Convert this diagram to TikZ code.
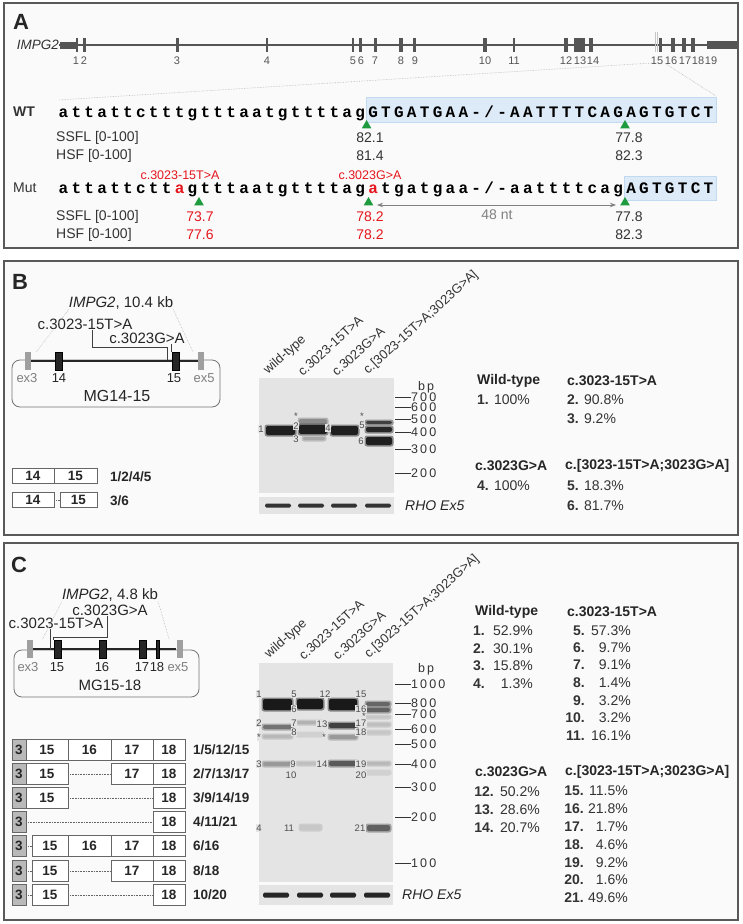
\documentclass[tikz,border=0pt]{standalone}
\usepackage{fontspec}
\setmainfont{Liberation Sans}
\newfontfamily\seqfont{Liberation Mono}
\usepackage{xcolor}
\usetikzlibrary{arrows.meta,shapes.geometric}

\definecolor{exgray}{HTML}{555555}
\definecolor{txtgray}{HTML}{333333}
\definecolor{seqblue}{HTML}{DDEBF8}
\definecolor{seqedge}{HTML}{C2DAF0}
\definecolor{trigreen}{HTML}{1F9B3F}
\definecolor{mutred}{HTML}{E5161D}
\definecolor{panelbg}{HTML}{FAFAFA}
\definecolor{gelbg}{HTML}{E4E4E4}
\newcommand{\fsz}[1]{\fontsize{#1}{#1}\selectfont}

\begin{document}
\begin{tikzpicture}[x=1pt, y=-1pt,
  panel/.style={draw=black!65, line width=1.1pt, fill=panelbg},
  plet/.style={font=\fsz{22}\bfseries, text=black!85},
  txt/.style={font=\fsz{14}, text=txtgray, inner sep=0pt},
  redtxt/.style={font=\fsz{12.5}, text=mutred, inner sep=0pt},
  exl/.style={font=\fsz{11}, text=exgray, inner sep=0pt},
  seq/.style={font=\fsz{16}\seqfont\bfseries, anchor=base, inner sep=0pt},
  seqbox/.style={fill=seqblue, draw=seqedge, line width=0.6pt},
  tri/.style={regular polygon, regular polygon sides=3, fill=trigreen, inner sep=0pt, minimum size=11pt},
  zoomln/.style={densely dotted, gray!55, line width=0.6pt},
  mgex/.style={rectangle, fill=black!85, draw=black, inner sep=0pt, minimum width=7pt, minimum height=18pt},
  mgside/.style={rectangle, fill=gray!75, inner sep=0pt, minimum width=6pt, minimum height=18pt},
  mglbl/.style={font=\fsz{15}, text=black!85, inner sep=0pt},
  exlbl/.style={font=\fsz{13}, text=black!85, inner sep=0pt},
  lead/.style={black!75, line width=0.7pt},
  sb/.style={rectangle, draw=black!60, fill=white, line width=0.7pt, font=\fsz{13.5}\bfseries, text=black!85, inner sep=0pt, minimum height=21pt},
  sb3/.style={sb, fill=gray!55, minimum width=14pt},
  gap/.style={densely dotted, black!60, line width=0.6pt},
  iso/.style={font=\fsz{13.5}\bfseries, text=black!85, anchor=west, inner sep=0pt},
  gel/.style={fill=gelbg},
  lane/.style={font=\fsz{13}, text=txtgray, rotate=42, anchor=south west, inner sep=0pt},
  bn/.style={font=\fsz{9.5}, text=black!70, fill=gelbg, inner sep=0.4pt},
  mk/.style={font=\fsz{12.5}, text=txtgray, anchor=west, inner sep=0pt},
  hdr/.style={font=\fsz{14}\bfseries, text=black!85, anchor=west, inner sep=0pt},
  val/.style={font=\fsz{14}, text=txtgray, anchor=west, inner sep=0pt},
]
  \useasboundingbox (0,0) rectangle (742,924);
  \fill[white] (0,0) rectangle (742,924);

  % Panels
  \draw[panel] (4,3) rectangle (738,248);
  \draw[panel] (4,261) rectangle (738,535);
  \draw[panel] (4,543) rectangle (738,920);
  \node[plet] (pA) at (21,22) {A};
  \node[plet] (pB) at (20,282) {B};
  \node[plet] (pC) at (19,565) {C};

  % A: gene structure
  \node[txt, font=\fsz{13.5}\itshape, anchor=east] (gname) at (59,45) {IMPG2};
  \coordinate (gend) at (736,45);
  \draw[exgray, line width=1.5pt] (gname.east) -- (gend);
  \fill[exgray] (60,41.5) rectangle (77,48.5);
  \fill[exgray] (707,41) rectangle (737,49);
  \draw[gray!45, line width=0.8pt] (655,32) -- (655,52);
  \draw[gray!45, line width=0.8pt] (657.5,32) -- (657.5,52);
  \foreach \x/\w in {77/1.6, 84/3, 177/3, 267/2, 353/2.2, 360/3, 375/3, 401/3.5, 414/3, 485/3.5,
                     514/2.2, 566/4, 579/11, 591/4, 660/3, 673/3.5, 684/3.5, 693/3.5}
    \fill[exgray] ({\x-\w/2},38) rectangle ({\x+\w/2},52);
  \foreach \x/\n in {76/1, 84/2, 177/3, 267/4, 353/5, 361/6, 375/7, 401/8, 415/9, 485/10, 514/11,
                     566/12, 580/13, 593/14, 657/15, 671/16, 685/17, 698/18, 711/19}
    \node[exl] (x\n) at (\x,61) {\n};
  \coordinate (zl) at (652,63);
  \coordinate (zr) at (666,64);
  \coordinate (sl) at (58,100);
  \coordinate (sr) at (716,96);
  \draw[zoomln] (zl) -- (sl);
  \draw[zoomln] (zr) -- (sr);

  % A: sequences
  \draw[seqbox] (366.6,97) rectangle (716,122);
  \draw[seqbox] (624.6,176) rectangle (716,200);
  \node[txt, font=\fsz{14}\bfseries, anchor=west] (wt) at (13,112) {WT};
  \foreach \c [count=\i from 0] in {a,t,t,a,t,t,c,t,t,t,g,t,t,t,a,a,t,g,t,t,t,t,a,g,
      G,T,G,A,T,G,A,A,-,{/},-,A,A,T,T,T,T,C,A,G,A,G,T,G,T,C,T}
    \node[seq] (w\i) at ({63.45+12.9*\i},117) {\c};
  \node[txt, anchor=west] (mut) at (13,188) {Mut};
  \foreach \c [count=\i from 0] in {a,t,t,a,t,t,c,t,t,a,g,t,t,t,a,a,t,g,t,t,t,t,a,g,
      a,t,g,a,t,g,a,a,-,{/},-,a,a,t,t,t,t,c,a,g,A,G,T,G,T,C,T}
    \node[seq] (m\i) at ({63.45+12.9*\i},193) {\ifnum\i=9 \color{mutred}\fi\ifnum\i=24 \color{mutred}\fi\c};
  \node[redtxt] (v1) at (180,175) {c.3023-15T>A};
  \node[redtxt] (v2) at (370,175) {c.3023G>A};

  \node[tri] (t1) at (366.6,125.5) {};
  \node[tri] (t2) at (625,125.5) {};
  \node[tri] (t3) at (199,202.5) {};
  \node[tri] (t4) at (368.5,202.5) {};
  \node[tri] (t5) at (625,202.5) {};

  \node[txt, anchor=west] (ssfl1) at (56,138) {SSFL [0-100]};
  \node[txt, anchor=west] (hsf1) at (56,156) {HSF [0-100]};
  \node[txt] (s1) at (370,138) {82.1};
  \node[txt] (s2) at (629,138) {77.8};
  \node[txt] (h1) at (370,156) {81.4};
  \node[txt] (h2) at (629,156) {82.3};

  \coordinate (a1) at (377,205);
  \coordinate (a2) at (616,205);
  \draw[{Stealth[length=6pt,width=4.5pt]}-{Stealth[length=6pt,width=4.5pt]}, gray, line width=0.9pt] (a1) -- (a2);
  \node[txt, text=gray] (nt) at (497,215) {48 nt};

  \node[txt, anchor=west] (ssfl2) at (56,217) {SSFL [0-100]};
  \node[txt, anchor=west] (hsf2) at (56,235) {HSF [0-100]};
  \node[txt, text=mutred] (s3) at (200,217) {73.7};
  \node[txt, text=mutred] (s4) at (370,217) {78.2};
  \node[txt] (s5) at (629,217) {77.8};
  \node[txt, text=mutred] (h3) at (200,235) {77.6};
  \node[txt, text=mutred] (h4) at (370,235) {78.2};
  \node[txt] (h5) at (629,235) {82.3};

  % B: minigene MG14-15
  \node[mglbl] (gB) at (121,303) {\textit{IMPG2}, 10.4 kb};
  \node[mglbl] (mTB) at (85,324) {c.3023-15T>A};
  \node[mglbl] (mGB) at (147,338) {c.3023G>A};
  \draw[rounded corners=8pt, black!55, line width=0.8pt] (12,360) rectangle (220,407);
  \node[mgside] (e3B) at (28,361) {};
  \node[mgside] (e5B) at (201,361) {};
  \draw[black!85, line width=1.3pt] (e3B) -- (e5B);
  \node[mgex] (e14B) at (59,361) {};
  \node[mgex] (e15B) at (175.5,361) {};
  \draw[zoomln] (gB.south west) -- ([xshift=5pt]e3B.north east);
  \draw[zoomln] (gB.south east) -- ([xshift=-5pt]e5B.north west);
  \coordinate (kB) at (167,360);
  \draw[lead] ([xshift=7pt]mTB.south) -- ++(0,18) -| (kB);
  \draw[lead] (mGB.south -| e15B.north west) -- (e15B.north west);
  \node[exlbl, text=gray] (l3B) at (27,378) {ex3};
  \node[exlbl] (l14B) at (59,378) {14};
  \node[exlbl] (l15B) at (174,378) {15};
  \node[exlbl, text=gray] (l5B) at (204,378) {ex5};
  \node[mglbl, font=\fsz{16}] (mgB) at (117,396) {MG14-15};

  \node[sb, minimum width=42pt, minimum height=15pt] (r1a) at (33,476) {14};
  \node[sb, minimum width=43pt, minimum height=15pt] (r1b) at (75.5,476) {15};
  \node[sb, minimum width=42pt, minimum height=15pt] (r2a) at (33,500) {14};
  \node[sb, minimum width=37pt, minimum height=15pt] (r2b) at (78.5,500) {15};
  \draw[gap] (r2a) -- (r2b);
  \node[iso] (i1) at (110,477) {1/2/4/5};
  \node[iso] (i2) at (110,501) {3/6};

  % B: gel
  \fill[gel] (259,378) rectangle (394,493);
  \fill[gel] (259,497) rectangle (394,514);
  \foreach \xa/\ya/\xb/\yb/\g in {266/426/295/435/88, 299/419/327/424/45, 299/425/327/434/88,
      303/437/325/440/35, 331/426/358/435/88, 366/421/392/424/75, 366/427/392/432/85, 366/437/392/445/88} {
    \fill[black!\g!gelbg, opacity=0.45, rounded corners=2.5pt] ({\xa-1.5},{\ya-1.5}) rectangle ({\xb+1.5},{\yb+1.5});
    \fill[black!\g, rounded corners=2pt] (\xa,\ya) rectangle (\xb,\yb);
  }
  \foreach \x in {265,298,331,365}
    \fill[black!80, rounded corners=1.5pt] (\x,503.5) rectangle ++(26,4);
  \foreach \x/\y/\t [count=\k] in {261/429/1, 296/416/*, 296/426/2, 296/439/3, 328/428/4,
      362/416/*, 362/425/5, 361/441/6}
    \node[bn] (nB\k) at (\x,\y) {\t};
  \node[lane] (lnB1) at (270,377) {wild-type};
  \node[lane] (lnB2) at (303,377) {c.3023-15T>A};
  \node[lane] (lnB3) at (337,377) {c.3023G>A};
  \node[lane] (lnB4) at (370,377) {c.[3023-15T>A;3023G>A]};
  \node[mk] (bpB) at (418,387) {b\,p};
  \foreach \v/\y [count=\k] in {7\,0\,0/397, 6\,0\,0/407, 5\,0\,0/419, 4\,0\,0/432, 3\,0\,0/449, 2\,0\,0/473} {
    \node[mk] (mB\k) at (411,\y) {\v};
    \draw[black!80, line width=0.8pt] (mB\k.west) -- ++(-16,0);
  }
  \node[txt, font=\fsz{14}\itshape, text=black!85, anchor=west] (rhoB) at (405,506) {RHO Ex5};

  \node[hdr] (hB1) at (477,381) {Wild-type};
  \node[hdr] (hB2) at (567,381) {c.3023-15T>A};
  \node[val] (vB1) at (477,400) {\textbf{1.} 100\%};
  \node[val] (vB2) at (567,400) {\textbf{2.} 90.8\%};
  \node[val] (vB3) at (567,419) {\textbf{3.} 9.2\%};
  \node[hdr] (hB3) at (475,466) {c.3023G>A};
  \node[hdr] (hB4) at (565,466) {c.[3023-15T>A;3023G>A]};
  \node[val] (vB4) at (477,486) {\textbf{4.} 100\%};
  \node[val] (vB5) at (567,486) {\textbf{5.} 18.3\%};
  \node[val] (vB6) at (567,506) {\textbf{6.} 81.7\%};

  % C: minigene MG15-18
  \node[mglbl] (gC) at (110,595) {\textit{IMPG2}, 4.8 kb};
  \node[mglbl] (mGC) at (110,610) {c.3023G>A};
  \node[mglbl] (mTC) at (56,623) {c.3023-15T>A};
  \draw[rounded corners=8pt, black!55, line width=0.8pt] (14,650) rectangle (199,697);
  \node[mgside] (e3C) at (30,649) {};
  \node[mgside] (e5C) at (179.5,649) {};
  \draw[black!85, line width=1.3pt] (e3C) -- (e5C);
  \node[mgex] (e15C) at (57.5,649) {};
  \node[mgex] (e16C) at (102.5,649) {};
  \node[mgex] (e17C) at (142.5,649) {};
  \node[mgex, minimum width=3.5pt] (e18C) at (157.5,649) {};
  \draw[zoomln] (gC.south west) -- ([xshift=9pt]e3C.north east);
  \draw[zoomln] (gC.south east) -- ([xshift=-7pt]e5C.north west);
  \coordinate (kC) at (50,650);
  \draw[lead] (mTC.south -| kC) -- (kC);
  \coordinate (jC) at (107,637);
  \draw[lead] (mGC.south -| jC) -- (jC) -| (e15C.north west);
  \node[exlbl, text=gray] (l3C) at (28,667) {ex3};
  \node[exlbl] (l15C) at (57,667) {15};
  \node[exlbl] (l16C) at (102,667) {16};
  \node[exlbl] (l17C) at (142,667) {17};
  \node[exlbl] (l18C) at (157,667) {18};
  \node[exlbl, text=gray] (l5C) at (178,667) {ex5};
  \node[mglbl] (mgC) at (110,685) {MG15-18};

  % C: splice products
  \node[sb3] (c1a) at (19,750) {3};
  \node[sb, minimum width=42pt] (c1b) at (47,750) {15};
  \node[sb, minimum width=43pt] (c1c) at (89.5,750) {16};
  \node[sb, minimum width=42pt] (c1d) at (132,750) {17};
  \node[sb, minimum width=32pt] (c1e) at (169,750) {18};
  \node[sb3] (c2a) at (19,774) {3};
  \node[sb, minimum width=42pt] (c2b) at (47,774) {15};
  \node[sb, minimum width=42pt] (c2d) at (132,774) {17};
  \node[sb, minimum width=32pt] (c2e) at (169,774) {18};
  \draw[gap] (c2b) -- (c2d);
  \node[sb3] (c3a) at (19,798) {3};
  \node[sb, minimum width=42pt] (c3b) at (47,798) {15};
  \node[sb, minimum width=32pt] (c3e) at (169,798) {18};
  \draw[gap] (c3b) -- (c3e);
  \node[sb3] (c4a) at (19,822) {3};
  \node[sb, minimum width=32pt] (c4e) at (169,822) {18};
  \draw[gap] (c4a) -- (c4e);
  \node[sb3] (c5a) at (19,846) {3};
  \node[sb, minimum width=36pt] (c5b) at (50,846) {15};
  \node[sb, minimum width=43pt] (c5c) at (89.5,846) {16};
  \node[sb, minimum width=42pt] (c5d) at (132,846) {17};
  \node[sb, minimum width=32pt] (c5e) at (169,846) {18};
  \draw[gap] (c5a) -- (c5b);
  \node[sb3] (c6a) at (19,871) {3};
  \node[sb, minimum width=36pt] (c6b) at (50,871) {15};
  \node[sb, minimum width=42pt] (c6d) at (132,871) {17};
  \node[sb, minimum width=32pt] (c6e) at (169,871) {18};
  \draw[gap] (c6a) -- (c6b);
  \draw[gap] (c6b) -- (c6d);
  \node[sb3] (c7a) at (19,895) {3};
  \node[sb, minimum width=36pt] (c7b) at (50,895) {15};
  \node[sb, minimum width=32pt] (c7e) at (169,895) {18};
  \draw[gap] (c7a) -- (c7b);
  \draw[gap] (c7b) -- (c7e);
  \foreach \y/\t [count=\k] in {750/1\slash5\slash12\slash15, 774/2\slash7\slash13\slash17,
      798/3\slash9\slash14\slash19, 822/4\slash11\slash21, 846/6\slash16, 871/8\slash18, 895/10\slash20}
    \node[iso] (iC\k) at (193,\y) {\t};

  % C: gel
  \fill[gel] (259,663) rectangle (393,882);
  \fill[gel] (259,885) rectangle (393,905);
  \foreach \xa/\ya/\xb/\yb/\g in {263/699/292/710/90, 263/725/292/729/55, 263/735/292/738/28,
      263/762/292/766/40, 297/699/323/709/90, 297/721/323/724/30, 297/733/323/736/18,
      297/762/323/765/25, 300/825/321/830/22, 329/699/357/710/90, 329/723/357/728/75,
      329/735/357/739/40, 329/761/357/766/65, 366/702/390/706/60, 366/708/390/712/62,
      366/716/390/718/22, 366/723/390/726/25, 366/731/390/734/22, 366/762/390/765/28,
      366/771/390/774/18, 367/825/390/831/62} {
    \fill[black!\g!gelbg, opacity=0.45, rounded corners=2.5pt] ({\xa-1.5},{\ya-1.5}) rectangle ({\xb+1.5},{\yb+1.5});
    \fill[black!\g, rounded corners=2pt] (\xa,\ya) rectangle (\xb,\yb);
  }
  \foreach \x in {263,297,330,364}
    \fill[black!85, rounded corners=1.5pt] (\x,892.5) rectangle ++(26,5);
  \foreach \x/\y/\t [count=\k] in {259/694/1, 294/694/5, 294/709/6, 325/694/12, 361/694/15,
      361/709/16, 364/716/*, 259/723/2, 294/723/7, 294/732/8, 322/724/13, 361/723/17,
      361/732/18, 259/737/*, 324/737/*, 259/764/3, 293/764/9, 291/775/10, 322/764/14,
      361/764/19, 361/775/20, 259/828/4, 289/828/11, 360/828/21}
    \node[bn] (nC\k) at (\x,\y) {\t};
  \node[lane] (lnC1) at (271,661) {wild-type};
  \node[lane] (lnC2) at (304,661) {c.3023-15T>A};
  \node[lane] (lnC3) at (338,661) {c.3023G>A};
  \node[lane] (lnC4) at (371,661) {c.[3023-15T>A;3023G>A]};
  \node[mk] (bpC) at (418,669) {b\,p};
  \foreach \v/\y [count=\k] in {1\,0\,0\,0/684, 8\,0\,0/703, 7\,0\,0/714, 6\,0\,0/729, 5\,0\,0/744,
      4\,0\,0/764, 3\,0\,0/787, 2\,0\,0/817, 1\,0\,0/863} {
    \node[mk] (mC\k) at (411,\y) {\v};
    \draw[black!80, line width=0.8pt] (mC\k.west) -- ++(-16,0);
  }
  \node[txt, font=\fsz{14}\itshape, text=black!85, anchor=west] (rhoC) at (402,895) {RHO Ex5};

  \node[hdr] (hC1) at (475,612) {Wild-type};
  \node[hdr] (hC2) at (567,612) {c.3023-15T>A};
  \node[hdr] (hC3) at (475,772) {c.3023G>A};
  \node[hdr] (hC4) at (565,772) {c.[3023-15T>A;3023G>A]};
  \foreach \n/\v/\y in {1/52.9/631, 2/30.1/649, 3/15.8/666, 4/1.3/684} {
    \node[val, anchor=east] (n\n) at (485,\y) {\textbf{\n.}};
    \node[val, anchor=east] (p\n) at (533,\y) {\v\%};
  }
  \foreach \n/\v/\y in {5/57.3/631, 6/9.7/648, 7/9.1/665, 8/1.4/683, 9/3.2/701, 10/3.2/718, 11/16.1/736} {
    \node[val, anchor=east] (n\n) at (585,\y) {\textbf{\n.}};
    \node[val, anchor=east] (p\n) at (631,\y) {\v\%};
  }
  \foreach \n/\v/\y in {12/50.2/792, 13/28.6/810, 14/20.7/828} {
    \node[val, anchor=east] (n\n) at (494,\y) {\textbf{\n.}};
    \node[val, anchor=east] (p\n) at (540,\y) {\v\%};
  }
  \foreach \n/\v/\y in {15/11.5/791, 16/21.8/809, 17/1.7/827, 18/4.6/845, 19/9.2/863, 20/1.6/880, 21/49.6/898} {
    \node[val, anchor=east] (n\n) at (584,\y) {\textbf{\n.}};
    \node[val, anchor=east] (p\n) at (628,\y) {\v\%};
  }
\end{tikzpicture}
\end{document}
